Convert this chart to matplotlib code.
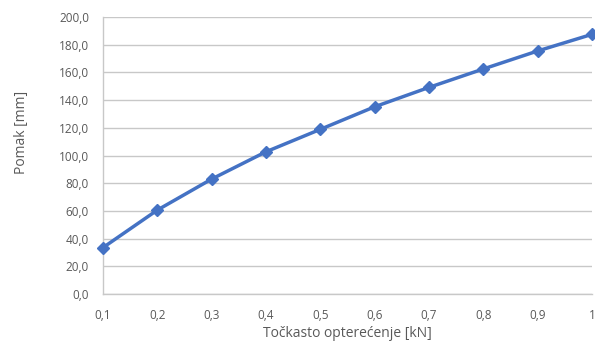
import matplotlib
matplotlib.use("Agg")
import matplotlib.pyplot as plt
from matplotlib.ticker import FuncFormatter

# Point load [kN] and resulting displacement [mm]
load_kn = [0.1, 0.2, 0.3, 0.4, 0.5, 0.6, 0.7, 0.8, 0.9, 1.0]
displacement_mm = [33.5, 60.6, 83.0, 102.7, 118.9, 135.2, 149.2, 162.5, 175.5, 187.5]
x_tick_labels = ["0,1", "0,2", "0,3", "0,4", "0,5", "0,6", "0,7", "0,8", "0,9", "1"]
y_ticks = [0, 20, 40, 60, 80, 100, 120, 140, 160, 180, 200]

plt.rcParams["font.family"] = ["Open Sans", "DejaVu Sans"]
text_color = "#595959"
grid_color = "#c8c8c8"

fig = plt.figure(figsize=(5.95, 3.5), dpi=100)
ax = fig.add_axes([0.1731, 0.16, 0.822, 0.7914])

ax.plot(load_kn, displacement_mm, color="#4472c4", linewidth=2.5,
        marker="D", markersize=6.5, clip_on=False, zorder=3)

ax.set_xlim(0.1, 1.0)
ax.set_ylim(0, 200)
ax.set_xticks(load_kn)
ax.set_xticklabels(x_tick_labels)
ax.set_yticks(y_ticks)
ax.yaxis.set_major_formatter(FuncFormatter(lambda v, p: f"{v:.1f}".replace(".", ",")))

ax.grid(axis="y", color=grid_color, linewidth=1.0)
ax.set_axisbelow(True)
for side in ["top", "right"]:
    ax.spines[side].set_visible(False)
for side in ["left", "bottom"]:
    ax.spines[side].set_color(grid_color)
    ax.spines[side].set_linewidth(1.0)

ax.tick_params(axis="both", length=0, labelsize=8.5, colors=text_color)
ax.tick_params(axis="y", pad=10)
ax.tick_params(axis="x", pad=11)

ax.set_xlabel("Točkasto opterećenje [kN]", fontsize=10, color=text_color, labelpad=3)
ax.set_ylabel("Pomak [mm]", fontsize=10, color=text_color)
ax.yaxis.set_label_coords(-0.152, 0.585)

fig.savefig("out.png", dpi=100, facecolor="white")
